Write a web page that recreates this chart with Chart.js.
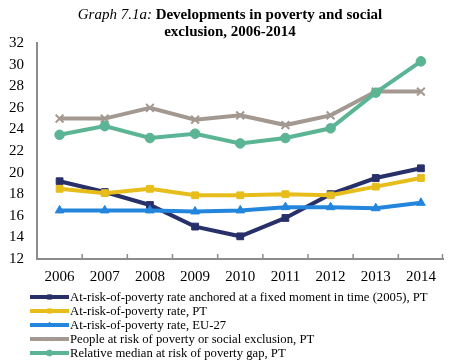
<!DOCTYPE html>
<html>
<head>
<meta charset="utf-8">
<title>Developments in poverty and social exclusion</title>
<script src="https://cdn.jsdelivr.net/npm/chart.js@4.4.0/dist/chart.umd.min.js"></script>
<style>
    html, body { margin: 0; padding: 0; background: #fff; }
    #wrap { width: 451px; height: 361px; position: relative; }
</style>
</head>
<body>
<div id="wrap"><canvas id="povertyChart"></canvas></div>
<script>
// data
const years = ['2006', '2007', '2008', '2009', '2010', '2011', '2012', '2013', '2014'];
const anchoredPT = [19.2, 18.2, 17.0, 15.0, 14.1, 15.8, 18.0, 19.5, 20.4];
const riskPT = [18.5, 18.1, 18.5, 17.9, 17.9, 18.0, 17.9, 18.7, 19.5];
const riskEU27 = [16.5, 16.5, 16.5, 16.4, 16.5, 16.8, 16.8, 16.7, 17.2];
const exclusionPT = [25.0, 25.0, 26.0, 24.9, 25.3, 24.4, 25.3, 27.5, 27.5];
const gapPT = [23.5, 24.3, 23.2, 23.6, 22.7, 23.2, 24.1, 27.4, 30.3];

const seriesLabels = [
    'At-risk-of-poverty rate anchored at a fixed moment in time (2005), PT',
    'At-risk-of-poverty rate, PT',
    'At-risk-of-poverty rate, EU-27',
    'People at risk of poverty or social exclusion, PT',
    'Relative median at risk of poverty gap, PT'
];

const serif = '"Liberation Serif", "Times New Roman", serif';
const axisGrey = '#8c8c8c';

function makeSet(label, data, color, style, radius, order) {
    return {
        label: label,
        data: data,
        order: order,
        borderColor: color,
        backgroundColor: color,
        borderWidth: 4,
        pointStyle: style,
        pointRadius: radius,
        pointBorderWidth: style === 'crossRot' ? 2 : 1,
        pointBorderColor: color,
        pointBackgroundColor: color,
        tension: 0,
        fill: false
    };
}

// legend order; later series are drawn on top (lowest 'order' ends up on top)
const datasets = [
    makeSet(seriesLabels[0], anchoredPT, '#28306a', 'rect', 4.8, 5),
    makeSet(seriesLabels[1], riskPT, '#e7bd1b', 'rect', 4.8, 4),
    makeSet(seriesLabels[2], riskEU27, '#2386dc', 'triangle', 5, 3),
    makeSet(seriesLabels[3], exclusionPT, '#a39991', 'crossRot', 5.5, 2),
    makeSet(seriesLabels[4], gapPT, '#5bb494', 'circle', 4.8, 1)
];

// title with mixed italic / bold runs
const titlePlugin = {
    id: 'mixedTitle',
    afterDraw(chart) {
        const ctx = chart.ctx;
        const cx = 230;
        ctx.save();
        ctx.fillStyle = '#000';
        ctx.textBaseline = 'alphabetic';
        const part1 = 'Graph 7.1a: ';
        const part2 = 'Developments in poverty and social';
        ctx.font = 'italic 15px ' + serif;
        const w1 = ctx.measureText(part1).width;
        ctx.font = 'bold 15px ' + serif;
        const w2 = ctx.measureText(part2).width;
        let x = cx - (w1 + w2) / 2;
        ctx.font = 'italic 15px ' + serif;
        ctx.textAlign = 'left';
        ctx.fillText(part1, x, 19);
        ctx.font = 'bold 15px ' + serif;
        ctx.fillText(part2, x + w1, 19);
        ctx.textAlign = 'center';
        ctx.fillText('exclusion, 2006-2014', cx, 36);
        ctx.restore();
    }
};

// small upward ticks between the categories on the x axis
const xTicksPlugin = {
    id: 'innerTicks',
    afterDatasetsDraw(chart) {
        const xs = chart.scales.x;
        const ctx = chart.ctx;
        const bottom = chart.chartArea.bottom;
        ctx.save();
        ctx.strokeStyle = axisGrey;
        ctx.lineWidth = 1.5;
        for (let i = 0; i < years.length; i++) {
            const right = i < years.length - 1
                ? (xs.getPixelForValue(i) + xs.getPixelForValue(i + 1)) / 2
                : chart.chartArea.right - 1;
            ctx.beginPath();
            ctx.moveTo(right, bottom);
            ctx.lineTo(right, bottom - 5);
            ctx.stroke();
        }
        ctx.restore();
    }
};

// legend below the plot: line sample with marker, then the label
const legendPlugin = {
    id: 'lineLegend',
    afterDraw(chart) {
        const ctx = chart.ctx;
        const x0 = 30, x1 = 69, top = 297, step = 14;
        ctx.save();
        datasets.forEach(function(ds, i) {
            const y = top + i * step;
            ctx.strokeStyle = ds.borderColor;
            ctx.fillStyle = ds.borderColor;
            ctx.lineWidth = 4;
            ctx.beginPath();
            ctx.moveTo(x0, y);
            ctx.lineTo(x1, y);
            ctx.stroke();
            ctx.lineWidth = 1;
            Chart.helpers.drawPoint(ctx, {
                pointStyle: ds.pointStyle,
                radius: 3,
                rotation: 0,
                borderWidth: 1
            }, (x0 + x1) / 2, y);
            ctx.fillStyle = '#000';
            ctx.font = '12.7px ' + serif;
            ctx.textAlign = 'left';
            ctx.textBaseline = 'middle';
            ctx.fillText(ds.label, x1 + 1, y + 0.5);
        });
        ctx.restore();
    }
};

document.addEventListener('DOMContentLoaded', function() {
    const ctx = document.getElementById('povertyChart').getContext('2d');
    new Chart(ctx, {
        type: 'line',
        data: {
            labels: years,
            datasets: datasets
        },
        options: {
            responsive: true,
            maintainAspectRatio: false,
            animation: false,
            events: [],
            layout: {
                padding: { top: 43, left: 0, right: 1, bottom: 75 }
            },
            plugins: {
                legend: { display: false },
                title: { display: false },
                tooltip: { enabled: false }
            },
            scales: {
                x: {
                    type: 'category',
                    offset: true,
                    grid: { display: false, drawTicks: false },
                    border: { display: true, color: axisGrey, width: 2 },
                    ticks: {
                        color: '#000',
                        padding: 9,
                        maxRotation: 0,
                        font: { family: serif, size: 15 }
                    },
                    afterFit(scale) { scale.height = 27; }
                },
                y: {
                    min: 12,
                    max: 32,
                    grid: { display: false, drawTicks: false },
                    border: { display: true, color: axisGrey, width: 2 },
                    ticks: {
                        stepSize: 2,
                        color: '#000',
                        padding: 13,
                        font: { family: serif, size: 15 }
                    },
                    afterFit(scale) { scale.width = 37; }
                }
            }
        },
        plugins: [titlePlugin, xTicksPlugin, legendPlugin]
    });
});
</script>
</body>
</html>
